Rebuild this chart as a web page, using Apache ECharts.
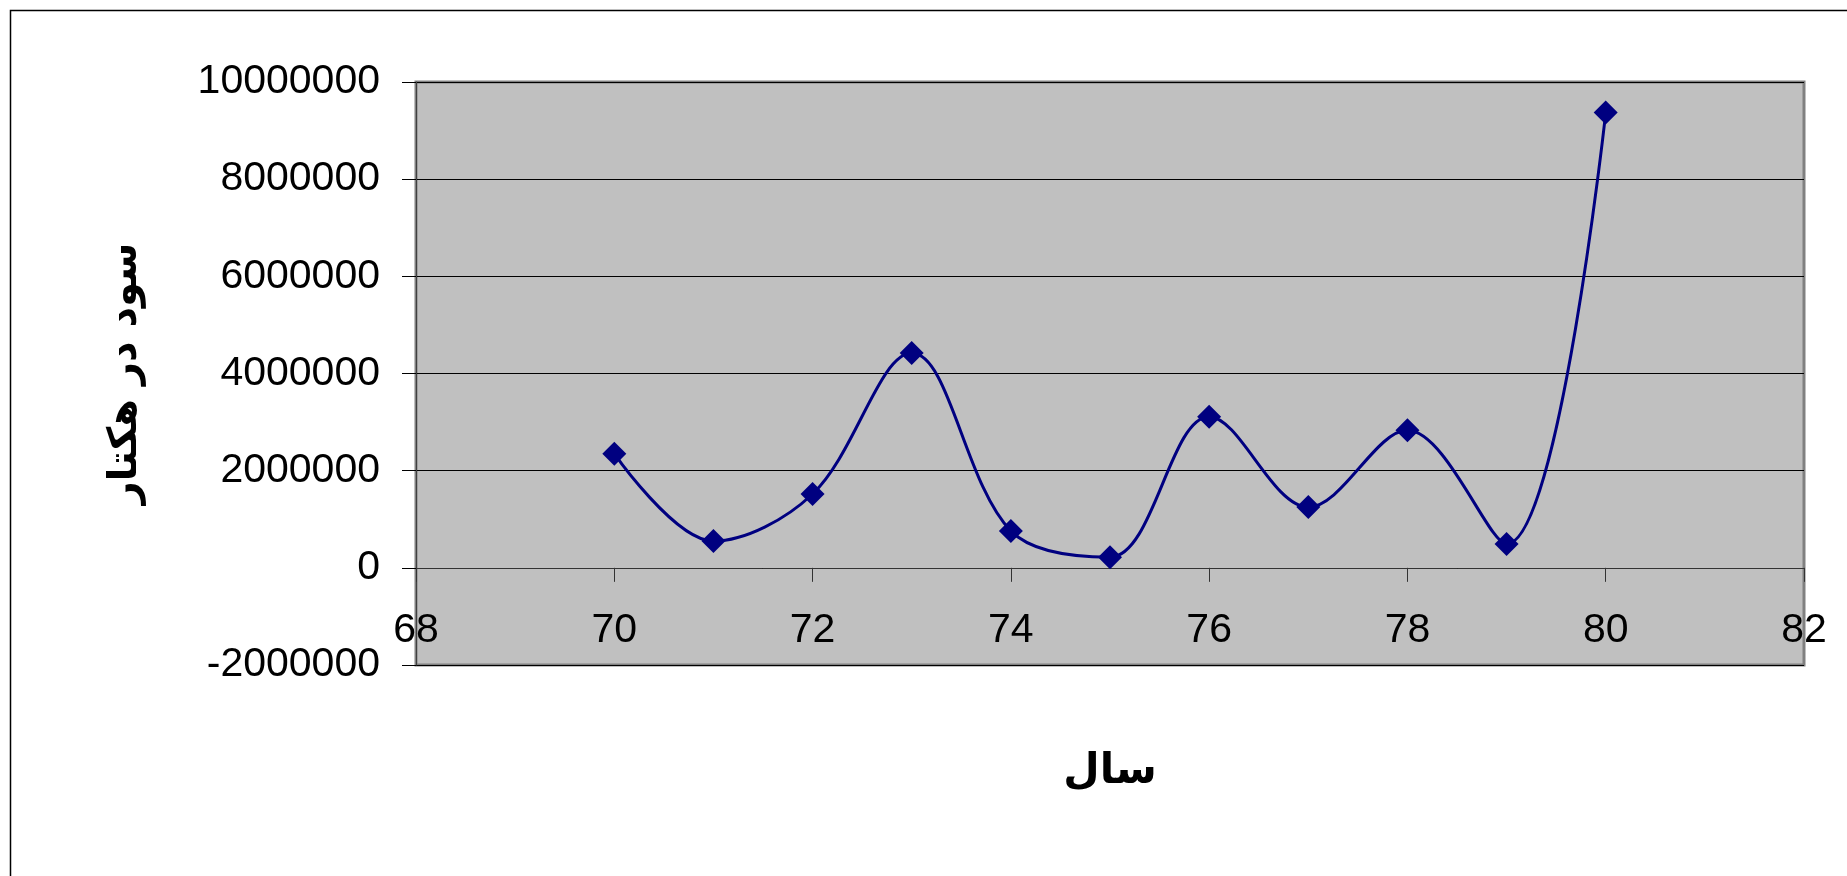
<!DOCTYPE html>
<html>
<head>
<meta charset="utf-8">
<script src="https://cdn.jsdelivr.net/npm/echarts@6/dist/echarts.min.js"></script>
<style>
html,body{margin:0;padding:0;background:#fff;}
#chart{width:1847px;height:876px;}
</style>
</head>
<body>
<div id="chart"></div>
<script>
const years = [70, 71, 72, 73, 74, 75, 76, 77, 78, 79, 80];
const profit = [2350000, 550000, 1520000, 4420000, 760000, 220000, 3110000, 1250000, 2830000, 490000, 9370000];
const xTitle = 'سال';
const yTitle = 'سود در هکتار';

const chart = echarts.init(document.getElementById('chart'));
chart.setOption({
  animation: false,
  backgroundColor: '#ffffff',
  graphic: [{
    type: 'rect',
    shape: {x: 10.5, y: 10.5, width: 1900, height: 1000},
    style: {fill: 'none', stroke: '#000', lineWidth: 1.5},
    silent: true, z: -1
  }],
  grid: {
    left: 416, right: 43, top: 82, bottom: 211,
    outerBoundsMode: 'none', containLabel: false,
    show: true, backgroundColor: '#c0c0c0', borderColor: '#808080', borderWidth: 3
  },
  xAxis: {
    type: 'value', min: 68, max: 82, interval: 2,
    name: xTitle, nameLocation: 'middle', nameGap: 86,
    nameTextStyle: {fontFamily: 'DejaVu Sans', fontWeight: 'bold', fontSize: 42, color: '#000'},
    axisLine: {show: true, onZero: true, lineStyle: {color: '#333', width: 1}},
    axisTick: {show: true, length: 14, lineStyle: {color: '#333', width: 1}},
    axisLabel: {inside: true, margin: 14, fontFamily: 'Liberation Sans', fontSize: 41, color: '#000', showMinLabel: true, showMaxLabel: true},
    splitLine: {show: false}
  },
  yAxis: {
    type: 'value', min: -2000000, max: 10000000, interval: 2000000,
    name: yTitle, nameLocation: 'middle', nameRotate: 90, nameGap: 270,
    nameTextStyle: {fontFamily: 'DejaVu Sans', fontWeight: 'bold', fontSize: 40, color: '#000'},
    axisLine: {show: true, lineStyle: {color: '#404040', width: 1}},
    axisTick: {show: true, length: 14, lineStyle: {color: '#000', width: 1}},
    axisLabel: {margin: 36, fontFamily: 'Liberation Sans', fontSize: 41, color: '#000',
      padding: [0, 0, 8, 0], formatter: v => String(v)},
    splitLine: {show: true, lineStyle: {color: '#000', width: 1}}
  },
  series: [{
    type: 'line',
    data: years.map((y, i) => [y, profit[i]]),
    smooth: 0.35,
    symbol: 'diamond', symbolSize: 24,
    lineStyle: {color: '#000080', width: 3},
    itemStyle: {color: '#000080'}
  }]
});
</script>
</body>
</html>
